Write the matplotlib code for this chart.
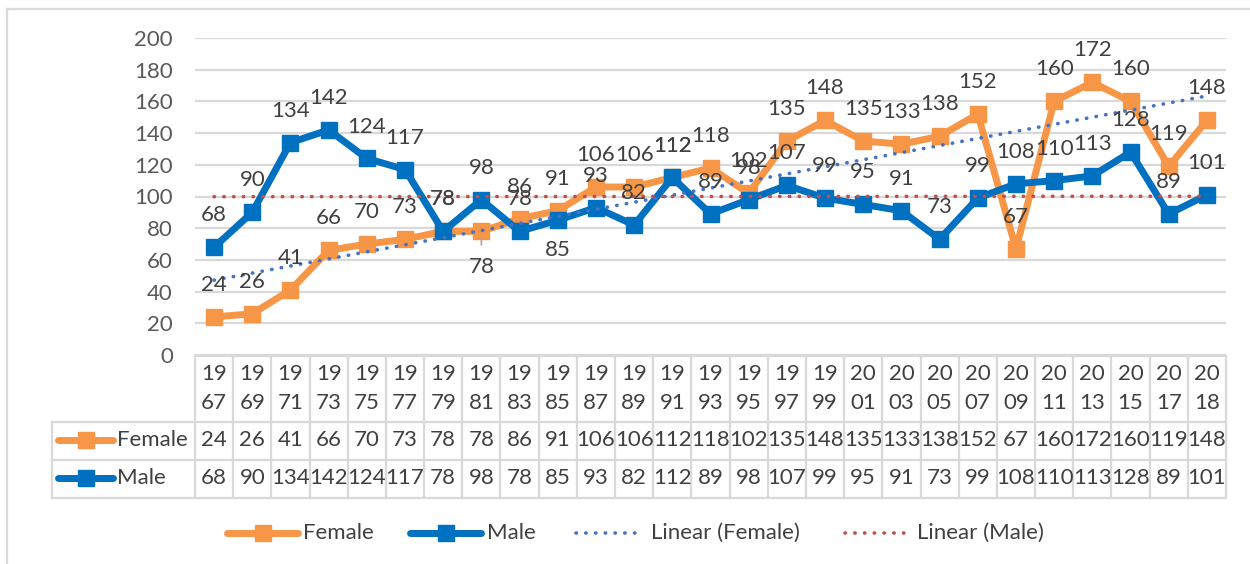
import numpy as np
import matplotlib
matplotlib.use('Agg')
import matplotlib.pyplot as plt
from matplotlib import transforms
from matplotlib.lines import Line2D

# ---------------- data ----------------
years = ['1967', '1969', '1971', '1973', '1975', '1977', '1979', '1981', '1983',
         '1985', '1987', '1989', '1991', '1993', '1995', '1997', '1999', '2001',
         '2003', '2005', '2007', '2009', '2011', '2013', '2015', '2017', '2018']
female = [24, 26, 41, 66, 70, 73, 78, 78, 86, 91, 106, 106, 112, 118, 102, 135,
          148, 135, 133, 138, 152, 67, 160, 172, 160, 119, 148]
male = [68, 90, 134, 142, 124, 117, 78, 98, 78, 85, 93, 82, 112, 89, 98, 107,
        99, 95, 91, 73, 99, 108, 110, 113, 128, 89, 101]
series_names = ['Female', 'Male']
trend_names = ['Linear (Female)', 'Linear (Male)']
labels_below = {'Female': ['1981'], 'Male': ['1985']}
leader_lines = [('Female', '1981')]

# ---------------- style ----------------
plt.rcParams['font.family'] = ['Lato', 'DejaVu Sans']
W, H = 1250, 564
FS = 16
TXT = '#404040'
GRID = '#D9D9D9'
colors = {'Female': '#F79646', 'Male': '#0070C0'}
trend_colors = {'Female': '#4472C4', 'Male': '#C0504D'}
DOTS = (0, (0.1, 2.6))
TLW = 2.6


def fx(px):
    return px / W


def fy(py):
    return 1 - py / H


fig = plt.figure(figsize=(W / 100, H / 100), dpi=100)
fig.patch.set_facecolor('white')

ax = fig.add_axes([fx(195), fy(355), fx(1226) - fx(195), fy(38) - fy(355)])
x = np.arange(len(years))
ax.set_xlim(-0.5, len(years) - 0.5)
ax.set_ylim(0, 200)
ax.set_yticks(range(0, 201, 20))
ax.grid(axis='y', color=GRID, lw=1.6)
ax.set_axisbelow(True)
for s in ax.spines.values():
    s.set_visible(False)
ax.tick_params(axis='y', length=0, pad=16, labelsize=FS, labelcolor='#595959')
ax.tick_params(axis='x', length=0, labelbottom=False)

data = {'Female': female, 'Male': male}

for name in series_names:
    vals = data[name]
    ax.plot(x, vals, color=colors[name], lw=5, marker='s', ms=11,
            solid_joinstyle='round', zorder=3, clip_on=False)

for name in series_names:
    vals = np.array(data[name], dtype=float)
    k, b = np.polyfit(x, vals, 1)
    ax.plot(x, k * x + b, color=trend_colors[name], lw=TLW, ls=DOTS,
            dash_capstyle='round', zorder=4)

for name in series_names:
    vals = data[name]
    for i, v in enumerate(vals):
        below = years[i] in labels_below[name]
        if below:
            dy = -26 if name == 'Female' else -21.5
        else:
            dy = 23
        kw = {}
        if (name, years[i]) in leader_lines:
            kw['arrowprops'] = dict(arrowstyle='-', color='#A6A6A6', lw=1.2,
                                    shrinkA=7, shrinkB=5)
        ax.annotate(str(v), (i, v), xytext=(0, dy), textcoords='offset points',
                    ha='center', va='center', fontsize=FS, color=TXT, zorder=6,
                    **kw)

# ---------------- data table ----------------
bt = transforms.blended_transform_factory(ax.transData, fig.transFigure)
ft = fig.transFigure
lw_t = 1.6
fig.add_artist(Line2D([fx(195), fx(1226)], [fy(356)] * 2, color=GRID, lw=lw_t, transform=ft))
for py in (422, 460, 498):
    fig.add_artist(Line2D([fx(52), fx(1226)], [fy(py)] * 2, color=GRID, lw=lw_t, transform=ft))
for i in range(len(years) + 1):
    fig.add_artist(Line2D([i - 0.5] * 2, [fy(356), fy(498)], color=GRID, lw=lw_t, transform=bt))
fig.add_artist(Line2D([fx(52)] * 2, [fy(422), fy(498)], color=GRID, lw=lw_t, transform=ft))

for i, yr in enumerate(years):
    fig.text(i, fy(374), yr[:2], transform=bt, ha='center', va='center', fontsize=FS, color=TXT)
    fig.text(i, fy(403), yr[2:], transform=bt, ha='center', va='center', fontsize=FS, color=TXT)

row_y = {'Female': 440, 'Male': 478}
for name in series_names:
    py = row_y[name]
    for i, v in enumerate(data[name]):
        fig.text(i, fy(py), str(v), transform=bt, ha='center', va='center', fontsize=FS, color=TXT)
    fig.add_artist(Line2D([fx(58), fx(113)], [fy(py)] * 2, color=colors[name], lw=5,
                          solid_capstyle='round', transform=ft))
    fig.add_artist(Line2D([fx(85.5)], [fy(py)], color=colors[name], marker='s', ms=11,
                          lw=0, transform=ft))
    fig.text(fx(117), fy(py), name, ha='left', va='center', fontsize=FS, color=TXT)

# ---------------- legend ----------------
LY = 533
leg_items = [
    ('Female', 227, 298, 303, 'series'),
    ('Male', 410, 481, 487, 'series'),
    ('Linear (Female)', 576, 640, 651, 'trend'),
    ('Linear (Male)', 845, 911, 917, 'trend'),
]
for label, x0, x1, tx, kind in leg_items:
    key = label.replace('Linear (', '').replace(')', '')
    if kind == 'series':
        fig.add_artist(Line2D([fx(x0), fx(x1)], [fy(LY)] * 2, color=colors[key], lw=5,
                              solid_capstyle='round', transform=ft))
        fig.add_artist(Line2D([fx((x0 + x1) / 2)], [fy(LY)], color=colors[key], marker='s',
                              ms=11, lw=0, transform=ft))
    else:
        fig.add_artist(Line2D([fx(x0), fx(x1)], [fy(LY)] * 2, color=trend_colors[key], lw=TLW,
                              ls=DOTS, dash_capstyle='round', transform=ft))
    fig.text(fx(tx), fy(LY), label, ha='left', va='center', fontsize=FS, color=TXT)

# ---------------- outer border ----------------
fig.add_artist(Line2D([fx(7), 1], [fy(9)] * 2, color=GRID, lw=1.6, transform=ft))
fig.add_artist(Line2D([fx(7)] * 2, [fy(9), 0], color=GRID, lw=1.6, transform=ft))

fig.savefig('out.png', dpi=100, facecolor='white')
